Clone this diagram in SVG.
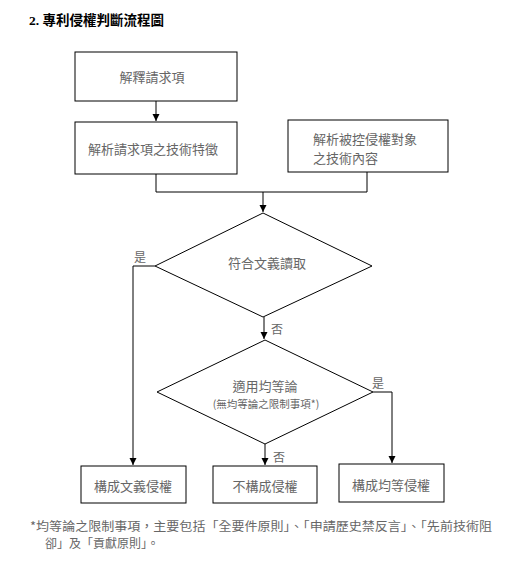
<svg xmlns="http://www.w3.org/2000/svg" width="523" height="586" viewBox="0 0 523 586">
<style>
.box{fill:#fff;stroke:#000;stroke-width:1}
.dia{fill:#fff;stroke:#000;stroke-width:1}
.t{font-family:"Noto Sans CJK TC","Noto Sans CJK SC",sans-serif;font-size:13px;fill:#666;text-anchor:middle;dominant-baseline:central}
.s{font-size:10.5px}
.lab{font-family:"Noto Sans CJK TC",sans-serif;font-size:12px;fill:#666;dominant-baseline:central}
.c{fill:none;stroke:#000;stroke-width:1}
.note{font-family:"Noto Sans CJK TC",sans-serif;font-size:12px;fill:#666;dominant-baseline:central}
</style>
<defs>
<marker id="ah" markerUnits="userSpaceOnUse" markerWidth="8" markerHeight="8" refX="7" refY="3.5" orient="auto">
<path d="M0,0 L7,3.5 L0,7 z" fill="#000"/>
</marker>
</defs>
<rect width="523" height="586" fill="#fff"/>
<text x="29" y="20" font-family="Liberation Serif,'Noto Sans CJK TC',serif" font-size="13.5" font-weight="bold" fill="#000" dominant-baseline="central">2.  專利侵權判斷流程圖</text>

<g id="connectors">
<path class="c" d="M156,101 V121" marker-end="url(#ah)"/>
<path class="c" d="M156,174 V192 H367 V172"/>
<path class="c" d="M263,192 V212" marker-end="url(#ah)"/>
<path class="c" d="M155,266 H133 V465" marker-end="url(#ah)"/>
<path class="c" d="M264,317 V339" marker-end="url(#ah)"/>
<path class="c" d="M373,392 H392 V463" marker-end="url(#ah)"/>
<path class="c" d="M265,444 V465" marker-end="url(#ah)"/>
<text class="lab" x="134" y="256">是</text>
<text class="lab" x="271" y="328">否</text>
<text class="lab" x="372" y="382">是</text>
<text class="lab" x="273" y="456">否</text>
</g>

<g id="n1"><rect class="box" x="75" y="52" width="162" height="49"/><text class="t" x="152" y="76">解釋請求項</text></g>
<g id="n2"><rect class="box" x="75" y="122" width="162" height="52"/><text class="t" x="153" y="148">解析請求項之技術特徵</text></g>
<g id="n3"><rect class="box" x="288" y="120" width="160" height="52"/><text class="t" x="313" y="138" style="text-anchor:start">解析被控侵權對象</text><text class="t" x="313" y="157" style="text-anchor:start">之技術內容</text></g>
<g id="d1"><polygon class="dia" points="263,213 372,266 263,317 155,266"/><text class="t" x="267" y="262">符合文義讀取</text></g>
<g id="d2"><polygon class="dia" points="265,340 373,392 265,444 157,392"/><text class="t" x="265" y="385">適用均等論</text><text class="t s" x="266" y="403">(無均等論之限制事項*)</text></g>
<g id="r1"><rect class="box" x="81" y="466" width="105" height="37"/><text class="t" x="133" y="485">構成文義侵權</text></g>
<g id="r2"><rect class="box" x="213" y="466" width="104" height="37"/><text class="t" x="265" y="485">不構成侵權</text></g>
<g id="r3"><rect class="box" x="339" y="464" width="105" height="38"/><text class="t" x="391" y="484">構成均等侵權</text></g>

<text class="note" x="30" y="525" textLength="462" lengthAdjust="spacingAndGlyphs">*均等論之限制事項，主要包括「全要件原則」、「申請歷史禁反言」、「先前技術阻</text>
<text class="note" x="45" y="542">卻」及「貢獻原則」。</text>
</svg>
